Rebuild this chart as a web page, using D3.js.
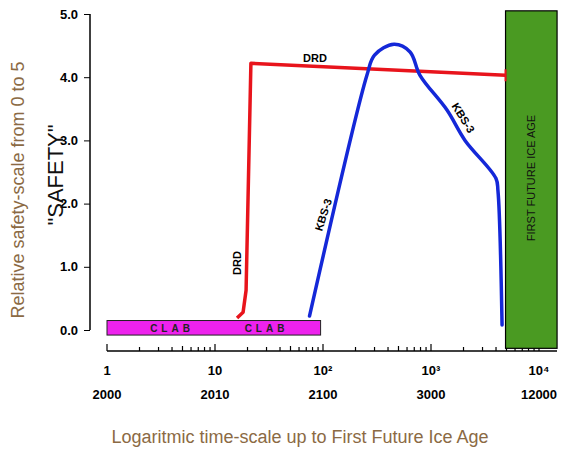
<!DOCTYPE html>
<html><head><meta charset="utf-8">
<script src="https://cdn.jsdelivr.net/npm/d3@7"></script>
<style>body{margin:0;background:#fff}text{font-family:"Liberation Sans",Arial,sans-serif}</style>
</head><body>
<script>
// values: [time (years, log), safety]
var drd = [[16, 0.19], [18.2, 0.28], [19.4, 0.63], [21.5, 4.22], [4900, 4.03]];
var kbs = [[75, 0.22], [255, 4.03], [300, 4.35], [454, 4.52], [640, 4.4], [791, 4.03],
           [1406, 3.48], [2065, 3.0], [3990, 2.4], [4170, 2.2], [4550, 0.08]];
var clab = {from: 1, to: 95, lo: -0.08, hi: 0.15};
var iceAge = {from: 4900, to: 14700, lo: -0.1, hi: 5.05};
var majorTicks = [1, 10, 100, 1000, 10000];
var tickLabels = ["1", "10", "10²", "10³", "10⁴"];
var yearLabels = ["2000", "2010", "2100", "3000", "12000"];
var yTicks = [0, 1, 2, 3, 4, 5];

var svg = d3.select("body").append("svg").attr("width", 568).attr("height", 454);
var x = d3.scaleLog().domain([1, 10000]).range([107, 539]);
var y = d3.scaleLinear().domain([0, 5]).range([330, 14]);

// y axis
var ya = svg.append("g").attr("transform", "translate(90,0)")
  .call(d3.axisLeft(y).tickValues(yTicks).tickSize(6).tickPadding(6));
ya.select(".domain").attr("stroke-width", 1.5).attr("d", "M0," + y(5) + "V" + y(0));
ya.selectAll("text").attr("font-size", 13).attr("font-weight", "bold");

// x axis (ticks pointing up)
var minor = [];
for (var d = 1; d < 20000; d *= 10) for (var k = 1; k < 10; k++) if (d * k <= 14000) minor.push(d * k);
var xa = svg.append("g").attr("transform", "translate(0,351)");
xa.append("line").attr("x1", 107).attr("x2", 557).attr("stroke", "#000").attr("stroke-width", 1.5);
xa.selectAll(".mt").data(minor).enter().append("line")
  .attr("x1", x).attr("x2", x).attr("y1", 0)
  .attr("y2", function (v) { return majorTicks.indexOf(v) >= 0 ? -7 : (v % 5 === 0 && String(v)[0] === "5" ? -5 : -4); })
  .attr("stroke", "#000").attr("stroke-width", 1.2);
xa.selectAll(".tl").data(majorTicks).enter().append("text")
  .attr("x", x).attr("y", 24).attr("text-anchor", "middle")
  .attr("font-size", 13).attr("font-weight", "bold")
  .text(function (v, i) { return tickLabels[i]; });
xa.selectAll(".yl").data(majorTicks).enter().append("text")
  .attr("x", x).attr("y", 48).attr("text-anchor", "middle")
  .attr("font-size", 13).attr("font-weight", "bold")
  .text(function (v, i) { return yearLabels[i]; });

// ice age block
svg.append("rect").attr("x", x(iceAge.from)).attr("y", y(iceAge.hi))
  .attr("width", x(iceAge.to) - x(iceAge.from)).attr("height", y(iceAge.lo) - y(iceAge.hi) + 12)
  .attr("fill", "#4a9a22").attr("stroke", "#000").attr("stroke-width", 1.2);
svg.append("text").attr("transform", "translate(535,178) rotate(-90)")
  .attr("text-anchor", "middle").attr("font-size", 11).attr("fill", "#111")
  .text("FIRST FUTURE ICE AGE");

// CLAB bar
svg.append("rect").attr("x", x(clab.from)).attr("y", y(clab.hi))
  .attr("width", x(clab.to) - x(clab.from)).attr("height", y(clab.lo) - y(clab.hi))
  .attr("fill", "#ee22ee").attr("stroke", "#222").attr("stroke-width", 1);
[4, 30].forEach(function (v) {
  svg.append("text").attr("x", x(v)).attr("y", y(clab.lo) - 3).attr("text-anchor", "middle")
    .attr("font-size", 10).attr("font-weight", "bold").attr("letter-spacing", 4).attr("fill", "#222")
    .text("CLAB");
});

var line = d3.line().x(function (d) { return x(d[0]); }).y(function (d) { return y(d[1]); });
svg.append("path").attr("d", line(drd)).attr("fill", "none")
  .attr("stroke", "#e8141c").attr("stroke-width", 3.5).attr("stroke-linejoin", "round");
var end = drd[drd.length - 1];
svg.append("line").attr("x1", x(end[0])).attr("x2", x(end[0]))
  .attr("y1", y(end[1]) - 6).attr("y2", y(end[1]) + 6).attr("stroke", "#e8141c").attr("stroke-width", 2);
svg.append("path").attr("d", line.curve(d3.curveCatmullRom)(kbs)).attr("fill", "none")
  .attr("stroke", "#1428d8").attr("stroke-width", 3.5).attr("stroke-linecap", "round");

function label(t, px, py, rot) {
  svg.append("text").attr("transform", "translate(" + px + "," + py + ") rotate(" + rot + ")")
    .attr("text-anchor", "middle").attr("font-size", 11).attr("font-weight", "bold").text(t);
}
label("DRD", 315, 62, 0);
label("DRD", 241, 263, -90);
label("KBS-3", 327, 216, -72);
label("KBS-3", 460, 120, 58);

// titles
svg.append("text").attr("transform", "translate(24,190) rotate(-90)").attr("text-anchor", "middle")
  .attr("font-size", 18).attr("fill", "#8b6a44").text("Relative safety-scale from 0 to 5");
svg.append("text").attr("transform", "translate(63,175) rotate(-90)").attr("text-anchor", "middle")
  .attr("font-size", 22).attr("fill", "#111").text("\"SAFETY\"");
svg.append("text").attr("x", 300).attr("y", 443).attr("text-anchor", "middle")
  .attr("font-size", 18).attr("fill", "#8b6a44").text("Logaritmic time-scale up to First Future Ice Age");
</script>
</body></html>
